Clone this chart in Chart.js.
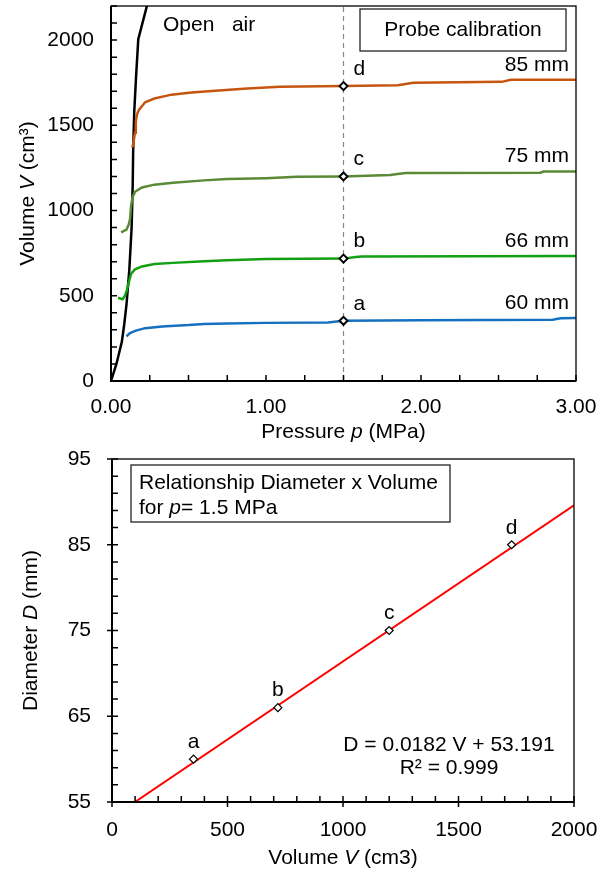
<!DOCTYPE html>
<html>
<head>
<meta charset="utf-8">
<script src="https://cdn.jsdelivr.net/npm/chart.js@4.4.0/dist/chart.umd.min.js"></script>
<style>
  body { margin: 0; background: #fff; }
  .wrap { position: absolute; left: 0; }
</style>
</head>
<body>
<div class="wrap" style="top:0px"><canvas id="chartTop" width="610" height="445"></canvas></div>
<div class="wrap" style="top:445px"><canvas id="chartBottom" width="610" height="429"></canvas></div>
<script>
// pressure (MPa) / volume (cm3) records, one pair per probe test
var airP = [0, 0.035, 0.07, 0.085, 0.10, 0.118, 0.133, 0.140, 0.143, 0.150, 0.162, 0.176, 0.26];
var airV = [0, 100, 230, 330, 450, 650, 900, 1150, 1350, 1580, 1790, 2005, 2300];

var p60 = [0.10, 0.12, 0.155, 0.22, 0.33, 0.50, 0.60, 0.75, 1.00, 1.40, 1.47, 1.50, 2.00, 2.85, 2.90, 3.00];
var v60 = [262, 280, 294, 310, 320, 328, 335, 337, 341, 343, 351, 353, 357, 359, 368, 369];

var p66 = [0.045, 0.075, 0.09, 0.10, 0.115, 0.13, 0.155, 0.20, 0.28, 0.40, 0.60, 0.75, 1.00, 1.50, 1.58, 1.62, 3.00];
var v66 = [488, 480, 500, 525, 580, 630, 655, 672, 686, 693, 702, 708, 716, 718, 728, 731, 733];

var p75 = [0.065, 0.10, 0.115, 0.123, 0.13, 0.14, 0.155, 0.20, 0.28, 0.40, 0.60, 0.75, 1.00, 1.20, 1.50, 1.80, 1.90, 2.77, 2.79, 3.00];
var v75 = [872, 888, 920, 950, 1030, 1080, 1110, 1135, 1152, 1163, 1177, 1185, 1190, 1198, 1200, 1208, 1220, 1222, 1229, 1229];

var p85 = [0.138, 0.145, 0.155, 0.16, 0.168, 0.18, 0.22, 0.28, 0.39, 0.52, 0.65, 0.88, 1.09, 1.50, 1.85, 1.95, 2.52, 2.58, 3.00];
var v85 = [1370, 1400, 1457, 1520, 1565, 1590, 1635, 1657, 1680, 1692, 1702, 1716, 1726, 1730, 1735, 1750, 1755, 1767, 1767];

// readings taken at p = 1.5 MPa
var pRead = 1.5;
var letters = ["a", "b", "c", "d"];
var readV = [353, 718, 1200, 1730];
var diam = [60, 66, 75, 85];
var diamLabels = ["60 mm", "66 mm", "75 mm", "85 mm"];

// linear fit D = slope * V + intercept
var slope = 0.0182;
var intercept = 53.191;
var r2 = 0.999;

// tick labels
var pTicks = [0, 1, 2, 3];
var vTicks = [0, 500, 1000, 1500, 2000];
var volTicks = [0, 500, 1000, 1500, 2000];
var dTicks = [55, 65, 75, 85, 95];

var colors = ["#1570c0", "#12a012", "#5a8a35", "#c6560f"];
var FONT = '"Liberation Sans", Arial, sans-serif';
var FS = 21;

Chart.defaults.font.family = FONT;
Chart.defaults.font.size = FS;
Chart.defaults.color = "#000";

function pts(xs, ys) {
  return xs.map(function (x, i) {
    return { x: x, y: ys[i] };
  });
}

// text made of plain and italic pieces, e.g. [["Volume ", 0], ["V", 1]]
function richText(ctx, parts, x, y, align) {
  var w = 0;
  parts.forEach(function (p) {
    ctx.font = (p[1] ? "italic " : "") + FS + "px " + FONT;
    w += ctx.measureText(p[0]).width;
  });
  var sx = align === "center" ? x - w / 2 : align === "right" ? x - w : x;
  ctx.textAlign = "left";
  ctx.textBaseline = "middle";
  ctx.fillStyle = "#000";
  parts.forEach(function (p) {
    ctx.font = (p[1] ? "italic " : "") + FS + "px " + FONT;
    ctx.fillText(p[0], sx, y);
    sx += ctx.measureText(p[0]).width;
  });
}

function plainText(ctx, str, x, y, align) {
  ctx.font = FS + "px " + FONT;
  ctx.textAlign = align;
  ctx.textBaseline = "middle";
  ctx.fillStyle = "#000";
  ctx.fillText(str, x, y);
}

// frame round the plot and inward tick marks (major ones may cross the axis)
function drawFrame(chart, tk) {
  var ctx = chart.ctx;
  var a = chart.chartArea;
  ctx.save();
  ctx.strokeStyle = "#000";
  ctx.lineWidth = 1.3;
  ctx.strokeRect(a.left, a.top, a.right - a.left, a.bottom - a.top);
  ctx.lineWidth = 2;
  ctx.beginPath();
  ctx.moveTo(a.left, a.top);
  ctx.lineTo(a.left, a.bottom);
  ctx.lineTo(a.right, a.bottom);
  ctx.stroke();

  ctx.lineWidth = 1.5;
  ctx.beginPath();
  ["x", "y"].forEach(function (id) {
    var s = chart.scales[id];
    var t = tk[id];
    var n = Math.round((s.max - s.min) / t.minor);
    for (var i = 0; i <= n; i++) {
      var v = s.min + i * t.minor;
      var q = (v - s.min) / t.major;
      var major = Math.abs(q - Math.round(q)) < 1e-6;
      var out = major && t.cross ? 5 : 0;
      var px = s.getPixelForValue(v);
      if (id === "x") {
        ctx.moveTo(px, a.bottom + out);
        ctx.lineTo(px, a.bottom - t.len);
      } else {
        ctx.moveTo(a.left - out, px);
        ctx.lineTo(a.left + t.len, px);
      }
    }
  });
  ctx.stroke();
  ctx.restore();
}

function boxAt(ctx, x, y, w, h) {
  ctx.save();
  ctx.strokeStyle = "#222";
  ctx.lineWidth = 1.3;
  ctx.strokeRect(x, y, w, h);
  ctx.restore();
}

function fixAxis(size) {
  return function (s) {
    if (s.isHorizontal()) s.height = size;
    else s.width = size;
    s.paddingTop = 0;
    s.paddingBottom = 0;
    s.paddingLeft = 0;
    s.paddingRight = 0;
  };
}

function setTicks(list) {
  return function (s) {
    s.ticks = list.map(function (v) {
      return { value: v };
    });
  };
}

// plain numbers, no thousands separator
function plainNum(v) {
  return String(v);
}

var noGrid = { display: false, drawTicks: false };

//==========================================pressure / volume chart
var topDecor = {
  id: "topDecor",
  afterDraw: function (chart) {
    var ctx = chart.ctx;
    var a = chart.chartArea;
    var sx = chart.scales.x;
    var sy = chart.scales.y;
    drawFrame(chart, {
      x: { minor: 0.25, major: 1, len: 6, cross: false },
      y: { minor: 100, major: 500, len: 6, cross: false },
    });

    var curveEnd = [v60, v66, v75, v85];
    for (var i = 0; i < letters.length; i++) {
      plainText(ctx, letters[i], sx.getPixelForValue(pRead) + 10, sy.getPixelForValue(readV[i]) - 17, "left");
      var last = curveEnd[i][curveEnd[i].length - 1];
      plainText(ctx, diamLabels[i], a.right - 7, sy.getPixelForValue(last) - 15, "right");
    }

    plainText(ctx, "Open   air", a.left + 52, a.top + 19, "left");
    boxAt(ctx, a.left + 249, a.top + 3, 206, 42);
    plainText(ctx, "Probe calibration", a.left + 352, a.top + 24, "center");

    richText(ctx, [["Pressure ", 0], ["p", 1], [" (MPa)", 0]], (a.left + a.right) / 2, a.bottom + 51, "center");
    ctx.save();
    ctx.translate(28, (a.top + a.bottom) / 2);
    ctx.rotate(-Math.PI / 2);
    richText(ctx, [["Volume ", 0], ["V", 1], [" (cm\u00b3)", 0]], 0, 0, "center");
    ctx.restore();
  },
};

new Chart(document.getElementById("chartTop").getContext("2d"), {
  type: "scatter",
  data: {
    datasets: [
      {
        data: pts(readV.map(function () { return pRead; }), readV),
        showLine: false,
        pointStyle: "rectRot",
        pointRadius: 4,
        pointBorderWidth: 2,
        pointBorderColor: "#000",
        pointBackgroundColor: "#fff",
      },
      { data: pts(p85, v85), showLine: true, borderColor: colors[3], borderWidth: 2.5, pointRadius: 0 },
      { data: pts(p75, v75), showLine: true, borderColor: colors[2], borderWidth: 2.5, pointRadius: 0 },
      { data: pts(p66, v66), showLine: true, borderColor: colors[1], borderWidth: 2.5, pointRadius: 0 },
      { data: pts(p60, v60), showLine: true, borderColor: colors[0], borderWidth: 2.5, pointRadius: 0 },
      { data: pts(airP, airV), showLine: true, borderColor: "#000", borderWidth: 2.5, pointRadius: 0 },
      {
        data: pts([pRead, pRead], [0, 2200]),
        showLine: true,
        borderColor: "#888",
        borderWidth: 1.2,
        borderDash: [5, 4],
        pointRadius: 0,
      },
    ],
  },
  options: {
    responsive: false,
    animation: false,
    events: [],
    layout: { padding: { top: 6, right: 34, left: 0, bottom: 0 } },
    plugins: { legend: { display: false }, tooltip: { enabled: false } },
    scales: {
      x: {
        type: "linear",
        min: 0,
        max: 3,
        afterBuildTicks: setTicks(pTicks),
        afterFit: fixAxis(64),
        grid: noGrid,
        border: { display: false },
        ticks: {
          padding: 14,
          maxRotation: 0,
          autoSkip: false,
          callback: function (v) { return v.toFixed(2); },
        },
      },
      y: {
        min: 0,
        max: 2200,
        afterBuildTicks: setTicks(vTicks),
        afterFit: fixAxis(111),
        grid: noGrid,
        border: { display: false },
        ticks: { padding: 17, autoSkip: false, callback: plainNum },
      },
    },
  },
  plugins: [topDecor],
});

//==========================================diameter / volume chart
var bottomDecor = {
  id: "bottomDecor",
  afterDraw: function (chart) {
    var ctx = chart.ctx;
    var a = chart.chartArea;
    var sx = chart.scales.x;
    var sy = chart.scales.y;
    drawFrame(chart, {
      x: { minor: 100, major: 500, len: 6, cross: true },
      y: { minor: 2, major: 10, len: 6, cross: true },
    });

    for (var i = 0; i < letters.length; i++) {
      plainText(ctx, letters[i], sx.getPixelForValue(readV[i]), sy.getPixelForValue(diam[i]) - 17, "center");
    }

    boxAt(ctx, a.left + 19, a.top + 6, 319, 57);
    plainText(ctx, "Relationship Diameter x Volume", a.left + 27, a.top + 24, "left");
    richText(ctx, [["for ", 0], ["p", 1], ["= 1.5 MPa", 0]], a.left + 27, a.top + 49, "left");

    plainText(ctx, "D = " + slope + " V + " + intercept, a.left + 337, a.top + 286, "center");
    plainText(ctx, "R\u00b2 = " + r2, a.left + 337, a.top + 309, "center");

    richText(ctx, [["Volume ", 0], ["V", 1], [" (cm3)", 0]], (a.left + a.right) / 2, a.bottom + 56, "center");
    ctx.save();
    ctx.translate(31, (a.top + a.bottom) / 2);
    ctx.rotate(-Math.PI / 2);
    richText(ctx, [["Diameter ", 0], ["D", 1], [" (mm)", 0]], 0, 0, "center");
    ctx.restore();
  },
};

var fitV0 = (55 - intercept) / slope;
var fitV1 = 2000;

new Chart(document.getElementById("chartBottom").getContext("2d"), {
  type: "scatter",
  data: {
    datasets: [
      {
        data: pts(readV, diam),
        showLine: false,
        pointStyle: "rectRot",
        pointRadius: 4,
        pointBorderWidth: 1.2,
        pointBorderColor: "#000",
        pointBackgroundColor: "#fff",
      },
      {
        data: pts([fitV0, fitV1], [slope * fitV0 + intercept, slope * fitV1 + intercept]),
        showLine: true,
        borderColor: "#ff0000",
        borderWidth: 2,
        pointRadius: 0,
      },
    ],
  },
  options: {
    responsive: false,
    animation: false,
    events: [],
    layout: { padding: { top: 14, right: 36, left: 0, bottom: 0 } },
    plugins: { legend: { display: false }, tooltip: { enabled: false } },
    scales: {
      x: {
        type: "linear",
        min: 0,
        max: 2000,
        afterBuildTicks: setTicks(volTicks),
        afterFit: fixAxis(72),
        grid: noGrid,
        border: { display: false },
        ticks: { padding: 16, maxRotation: 0, autoSkip: false, callback: plainNum },
      },
      y: {
        min: 55,
        max: 95,
        afterBuildTicks: setTicks(dTicks),
        afterFit: fixAxis(112),
        grid: noGrid,
        border: { display: false },
        ticks: { padding: 21, autoSkip: false, callback: plainNum },
      },
    },
  },
  plugins: [bottomDecor],
});
</script>
</body>
</html>
